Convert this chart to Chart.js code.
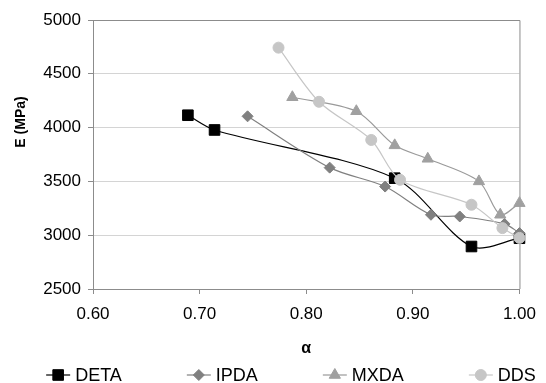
<!DOCTYPE html>
<html><head><meta charset="utf-8">
<script src="https://cdn.jsdelivr.net/npm/chart.js@4/dist/chart.umd.min.js"></script>
<style>html,body{margin:0;padding:0;background:#fff;}#wrap{width:546px;height:383px;}</style>
</head><body><div id="wrap"><canvas id="c" width="546" height="383"></canvas></div>
<script>
const seriesNames = ['DETA', 'IPDA', 'MXDA', 'DDS'];
const detaAlpha = [0.689, 0.714, 0.883, 0.955, 1.000];
const detaE = [4115, 3978, 3530, 2895, 2972];
const ipdaAlpha = [0.745, 0.822, 0.874, 0.917, 0.944, 0.986, 1.000];
const ipdaE = [4105, 3628, 3452, 3190, 3174, 3105, 3020];
const mxdaAlpha = [0.787, 0.847, 0.883, 0.914, 0.962, 0.982, 1.000];
const mxdaE = [4282, 4152, 3835, 3710, 3500, 3190, 3298];
const ddsAlpha = [0.774, 0.812, 0.861, 0.888, 0.955, 0.984, 1.000];
const ddsE = [4743, 4240, 3885, 3515, 3283, 3066, 2975];
const xTicks = [0.60, 0.70, 0.80, 0.90, 1.00];
const yTicks = [2500, 3000, 3500, 4000, 4500, 5000];
const xTitle = 'α';
const yTitle = 'E (MPa)';

const FONT = '"Liberation Sans", Arial, sans-serif';
const pts = (xs, ys) => xs.map((x, i) => ({x: x, y: ys[i]}));

function ds(label, xs, ys, color, lineColor, style, radius, order) {
  return {
    label: label, data: pts(xs, ys), borderColor: lineColor, backgroundColor: color,
    pointBackgroundColor: color, pointBorderColor: color, pointBorderWidth: 1,
    pointStyle: style, pointRadius: radius, borderWidth: 1.2, tension: 0.3,
    order: order, clip: false
  };
}

const frame = {
  id: 'frame',
  beforeDatasetsDraw(chart) {
    const a = chart.chartArea, ctx = chart.ctx;
    ctx.save();
    ctx.strokeStyle = '#8c8c8c'; ctx.lineWidth = 1;
    ctx.beginPath();
    ctx.moveTo(a.left, a.top + 0.5); ctx.lineTo(a.right + 0.5, a.top + 0.5); ctx.lineTo(a.right + 0.5, a.bottom);
    ctx.stroke();
    ctx.restore();
  }
};

const extras = {
  id: 'extras',
  afterDraw(chart) {
    const ctx = chart.ctx, a = chart.chartArea;
    ctx.save();
    // y-axis title
    ctx.font = 'bold 14px ' + FONT;
    ctx.fillStyle = '#000';
    ctx.textAlign = 'center'; ctx.textBaseline = 'middle';
    ctx.translate(21, 122); ctx.rotate(-Math.PI / 2);
    ctx.fillText(yTitle, 0, 0);
    ctx.restore();
    // legend
    ctx.save();
    ctx.font = '18px ' + FONT;
    const icon = 24, iconGap = 5, gap = 65, y = 375;
    const dsets = chart.data.datasets;
    const widths = dsets.map(d => icon + iconGap + ctx.measureText(d.label).width);
    const total = widths.reduce((s, w) => s + w, 0) + gap * (dsets.length - 1);
    let x = 291 - total / 2;
    dsets.forEach((d, i) => {
      ctx.strokeStyle = d.borderColor; ctx.lineWidth = 1.2;
      ctx.beginPath(); ctx.moveTo(x, y); ctx.lineTo(x + icon, y); ctx.stroke();
      ctx.fillStyle = d.pointBackgroundColor; ctx.strokeStyle = d.pointBorderColor; ctx.lineWidth = 1;
      Chart.helpers.drawPoint(ctx, {pointStyle: d.pointStyle, rotation: 0, radius: d.pointRadius, borderWidth: 1}, x + icon / 2, y);
      ctx.fillStyle = '#000'; ctx.textAlign = 'left'; ctx.textBaseline = 'middle';
      ctx.fillText(d.label, x + icon + iconGap, y + 1);
      x += widths[i] + gap;
    });
    ctx.restore();
  }
};

new Chart(document.getElementById('c'), {
  type: 'line',
  data: {
    datasets: [
      ds(seriesNames[0], detaAlpha, detaE, '#000000', '#000000', 'rect', 7.5, 3),
      ds(seriesNames[1], ipdaAlpha, ipdaE, '#808080', '#808080', 'rectRot', 5.5, 2),
      ds(seriesNames[2], mxdaAlpha, mxdaE, '#a0a0a0', '#9a9a9a', 'triangle', 6.5, 1),
      ds(seriesNames[3], ddsAlpha, ddsE, '#c6c6c6', '#c6c6c6', 'circle', 5.5, 0)
    ]
  },
  options: {
    responsive: false, animation: false, devicePixelRatio: 1,
    layout: {padding: {left: 0, right: 22, top: 20, bottom: 21}},
    plugins: {legend: {display: false}, tooltip: {enabled: false}},
    scales: {
      x: {
        type: 'linear', min: xTicks[0], max: xTicks[xTicks.length - 1],
        afterBuildTicks: s => { s.ticks = xTicks.map(v => ({value: v})); },
        afterFit: s => { s.height = 73; },
        ticks: {font: {family: FONT, size: 17}, color: '#000', padding: 10, maxRotation: 0,
          callback: v => Number(v).toFixed(2)},
        grid: {drawOnChartArea: false, tickLength: 5, tickColor: '#8c8c8c'},
        border: {color: '#8c8c8c', width: 1},
        title: {display: true, text: xTitle, font: {family: FONT, size: 16, weight: 'bold'}, color: '#000', padding: {top: 0, bottom: 4}}
      },
      y: {
        type: 'linear', min: yTicks[0], max: yTicks[yTicks.length - 1],
        afterBuildTicks: s => { s.ticks = yTicks.map(v => ({value: v})); },
        afterFit: s => { s.width = 93; },
        ticks: {font: {family: FONT, size: 17}, color: '#000', padding: 7, callback: v => String(v)},
        grid: {color: '#d4d4d4', tickLength: 5, tickColor: '#8c8c8c'},
        border: {color: '#8c8c8c', width: 1}
      }
    }
  },
  plugins: [frame, extras]
});
</script></body></html>
